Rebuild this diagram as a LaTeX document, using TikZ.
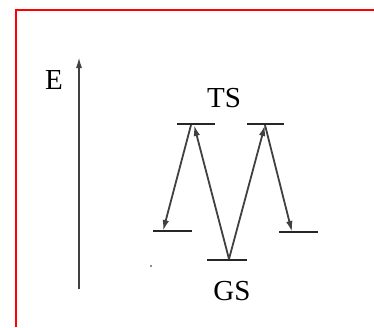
\documentclass[tikz,border=0pt]{standalone}
\usepackage{fontspec}
\setmainfont{Liberation Serif}
\usetikzlibrary{arrows.meta}
\begin{document}
\begin{tikzpicture}[x=1pt,y=-1pt,
  levelbar/.style={line width=2.4pt, black!85},
  react/.style={line width=1.8pt, black!75, -{Latex[length=11pt,width=6.5pt]}},
  axisline/.style={line width=1.7pt, black!75, -{Latex[length=11pt,width=6pt]}},
  lbl/.style={font=\fontsize{29}{29}\selectfont, inner sep=0pt}]
\useasboundingbox (0,0) rectangle (374,327);
\fill[white] (0,0) rectangle (374,327);
\draw[red, line width=2.4pt] (16,327) -- (16,10) -- (374,10);
% energy axis
\coordinate (axb) at (79,289);
\coordinate (axt) at (79,57);
\draw[axisline] (axb) -- (axt);
\node[lbl] (E) at (54,80) {E};
\node[lbl] (TS) at (224,98) {TS};
\node[lbl] (GS) at (232,291) {GS};
% levels
\coordinate (ts1l) at (177,124); \coordinate (ts1r) at (215,124);
\coordinate (ts2l) at (247,124); \coordinate (ts2r) at (284,124);
\coordinate (p1l) at (153,231); \coordinate (p1r) at (192,231);
\coordinate (gsl) at (207,260); \coordinate (gsr) at (247,260);
\coordinate (p2l) at (279,232); \coordinate (p2r) at (318,232);
\foreach \a/\b in {ts1l/ts1r, ts2l/ts2r, p1l/p1r, gsl/gsr, p2l/p2r}
  \draw[levelbar] (\a) -- (\b);
% path points
\coordinate (ts1a) at (191,125);
\coordinate (ts1b) at (194,125);
\coordinate (p1a) at (163,231);
\coordinate (gsa) at (229,259);
\coordinate (ts2a) at (265,125);
\coordinate (p2a) at (292,232);
\draw[react] (ts1a) -- (p1a);
\draw[react] (gsa) -- (ts1b);
\draw[react] (gsa) -- (ts2a);
\draw[react] (ts2a) -- (p2a);
\fill[black!60] (151,266) circle (1.2pt);
\end{tikzpicture}
\end{document}
